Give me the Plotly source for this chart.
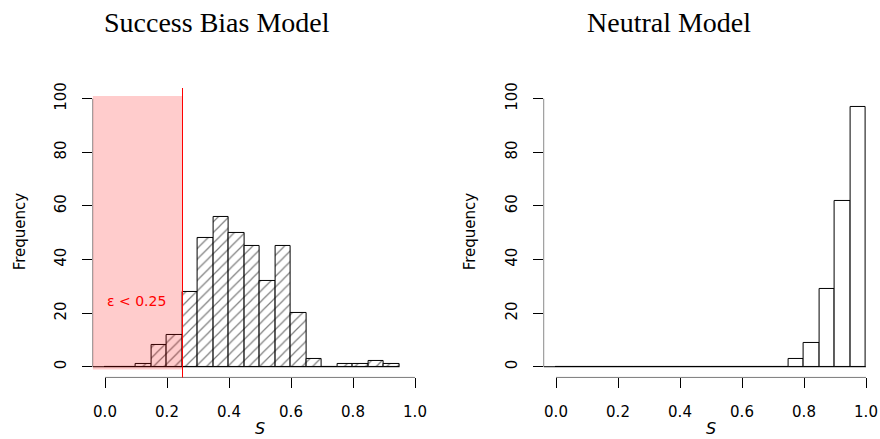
import plotly.graph_objects as go

# ---------------- data ----------------
bin_width = 0.05
bias_bin_left = [0.00, 0.05, 0.10, 0.15, 0.20, 0.25, 0.30, 0.35, 0.40, 0.45,
                 0.50, 0.55, 0.60, 0.65, 0.70, 0.75, 0.80, 0.85, 0.90]
bias_counts = [0, 0, 1, 8, 12, 28, 48, 56, 50, 45,
               32, 45, 20, 3, 0, 1, 1, 2, 1]

neutral_bin_left = [0.00, 0.05, 0.10, 0.15, 0.20, 0.25, 0.30, 0.35, 0.40, 0.45,
                    0.50, 0.55, 0.60, 0.65, 0.70, 0.75, 0.80, 0.85, 0.90, 0.95]
neutral_counts = [0, 0, 0, 0, 0, 0, 0, 0, 0, 0,
                  0, 0, 0, 0, 0, 3, 9, 29, 62, 97]

x_ticks = [0.0, 0.2, 0.4, 0.6, 0.8, 1.0]
x_ticktext = ["0.0", "0.2", "0.4", "0.6", "0.8", "1.0"]
y_ticks = [0, 20, 40, 60, 80, 100]
y_ticktext = ["0", "20", "40", "60", "80", "100"]
threshold = 0.25
threshold_label = "ε < 0.25"
titles = ["Success Bias Model", "Neutral Model"]

# ---------------- layout helpers ----------------
W, H = 880, 439
def py(p):  # pixel row -> paper y
    return 1 - p / H
def px(p):
    return p / W

XR = [-0.04, 1.04]
YR = [-4, 104]
ydom = [py(376.6), py(83.1)]
xdom1 = [px(92.6), px(427.4)]
xdom2 = [px(543.6), px(878.4)]

fig = go.Figure()

fig.add_trace(go.Bar(
    x=bias_bin_left, y=bias_counts, width=bin_width, offset=0,
    marker=dict(color="white", line=dict(color="black", width=1),
                pattern=dict(shape="/", fgcolor="black", bgcolor="white",
                             size=7.5, solidity=0.16)),
    xaxis="x", yaxis="y", showlegend=False))

fig.add_trace(go.Bar(
    x=neutral_bin_left, y=neutral_counts, width=bin_width, offset=0,
    marker=dict(color="white", line=dict(color="black", width=1)),
    xaxis="x2", yaxis="y2", showlegend=False))

tickfont = dict(family="DejaVu Sans", size=15, color="black")
common_x = dict(range=XR, tickvals=x_ticks, ticktext=x_ticktext, ticks="outside",
                ticklen=10, tickcolor="black", tickwidth=1, showline=False,
                showgrid=False, zeroline=False, tickfont=tickfont,
                ticklabelstandoff=11, fixedrange=True)
common_y = dict(range=YR, tickvals=y_ticks, ticktext=y_ticktext, ticks="outside",
                ticklen=10, tickcolor="black", tickwidth=1, showline=False,
                showgrid=False, zeroline=False, tickfont=tickfont, tickangle=-90,
                ticklabelstandoff=10, fixedrange=True)

fig.update_layout(
    width=W, height=H, autosize=False,
    margin=dict(l=0, r=0, t=0, b=0),
    paper_bgcolor="white", plot_bgcolor="white",
    bargap=0,
    xaxis=dict(domain=xdom1, anchor="y", **common_x),
    yaxis=dict(domain=ydom, anchor="x", **common_y),
    xaxis2=dict(domain=xdom2, anchor="y2", **common_x),
    yaxis2=dict(domain=ydom, anchor="x2", **common_y),
)

shapes = []
for xr, yr, last in (("x", "y", bias_bin_left[-1] + bin_width),
                     ("x2", "y2", neutral_bin_left[-1] + bin_width)):
    shapes.append(dict(type="line", xref=xr, yref=yr, x0=x_ticks[0], x1=x_ticks[-1],
                       y0=YR[0], y1=YR[0], line=dict(color="black", width=1)))
    shapes.append(dict(type="line", xref=xr, yref=yr, x0=XR[0], x1=XR[0],
                       y0=y_ticks[0], y1=y_ticks[-1], line=dict(color="black", width=1)))
    shapes.append(dict(type="line", xref=xr, yref=yr, x0=XR[0], x1=last,
                       y0=0, y1=0, line=dict(color="black", width=1), layer="below"))

shapes.append(dict(type="rect", xref="x", yref="y", x0=XR[0], x1=threshold,
                   y0=-1, y1=101, fillcolor="rgba(255,0,0,0.2)",
                   line=dict(width=0), layer="above"))
shapes.append(dict(type="line", xref="x", yref="y", x0=threshold, x1=threshold,
                   y0=-7, y1=104, line=dict(color="red", width=1), layer="above"))
fig.update_layout(shapes=shapes)

ann = []
ann.append(dict(text=threshold_label, x=0.10, y=24.5, xref="x", yref="y",
                showarrow=False, font=dict(family="DejaVu Sans", size=14, color="red")))
for cx, t in ((217, titles[0]), (669, titles[1])):
    ann.append(dict(text=t, x=px(cx), y=py(17), xref="paper", yref="paper",
                    showarrow=False, xanchor="center", yanchor="middle",
                    font=dict(family="Liberation Serif", size=28, color="black")))
for cx in (19.5, 469.5):
    ann.append(dict(text="Frequency", x=px(cx), y=py(229), xref="paper", yref="paper",
                    showarrow=False, textangle=-90, xanchor="center", yanchor="middle",
                    font=dict(family="DejaVu Sans", size=15, color="black")))
for cx in (260, 711):
    ann.append(dict(text="<i>S</i>", x=px(cx), y=py(428.5), xref="paper", yref="paper",
                    showarrow=False, xanchor="center", yanchor="middle",
                    font=dict(family="DejaVu Sans", size=16, color="black")))
fig.update_layout(annotations=ann)

fig.write_html("out.html", config={"displayModeBar": False},
               post_script="document.body.style.margin='0px';document.body.style.overflow='hidden';")
